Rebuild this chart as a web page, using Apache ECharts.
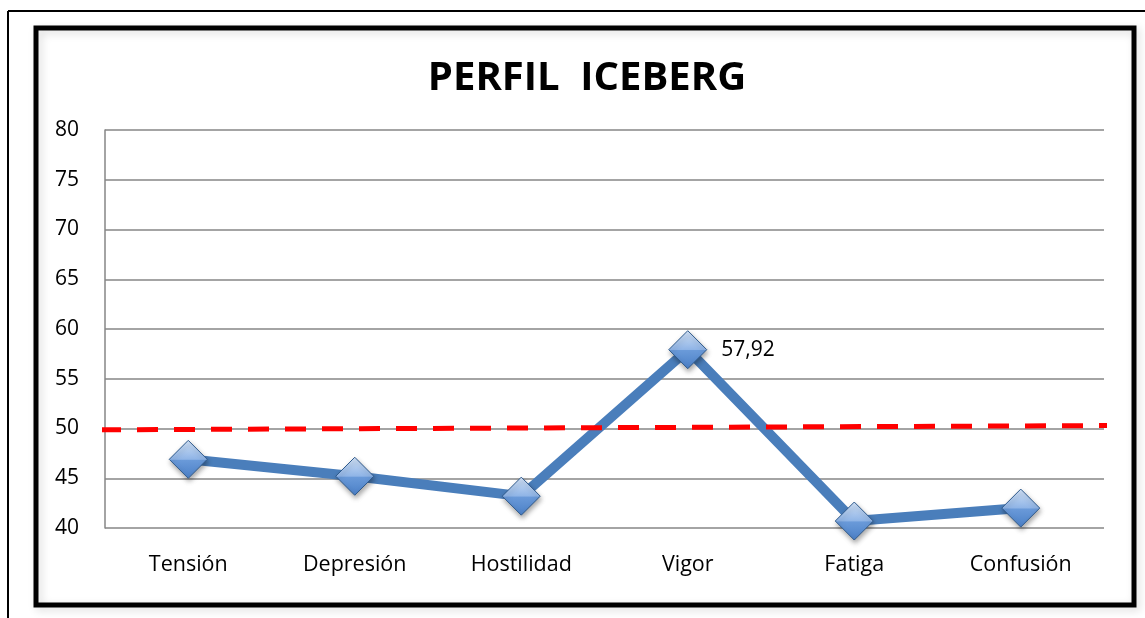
<!DOCTYPE html>
<html>
<head>
<meta charset="utf-8">
<script src="https://cdn.jsdelivr.net/npm/echarts@6/dist/echarts.min.js"></script>
<style>
html,body{margin:0;padding:0;background:#fff;}
#chart{width:1145px;height:618px;}
</style>
</head>
<body>
<div id="chart"></div>
<script>
const titleText = 'PERFIL  ICEBERG';
const categories = ['Tensión', 'Depresión', 'Hostilidad', 'Vigor', 'Fatiga', 'Confusión'];
const values = [46.9, 45.2, 43.2, 57.92, 40.7, 42.0];
const yTicks = [40, 45, 50, 55, 60, 65, 70, 75, 80];
// reference dashed line (drawn across the plot, slightly tilted)
const refLineX = [-0.005, 1.018];
const refLineY = [49.87, 50.3];
const labelledIndex = 3;

const FONT = '"Open Sans", "Noto Sans", sans-serif';
const chart = echarts.init(document.getElementById('chart'), null, {renderer: 'canvas'});

const diamondFill = new echarts.graphic.LinearGradient(0, 0, 0, 1, [
  {offset: 0, color: '#d3e3f7'},
  {offset: 0.5, color: '#8fb4e6'},
  {offset: 0.52, color: '#6a9ad9'},
  {offset: 1, color: '#4a7fc6'}
]);

chart.setOption({
  backgroundColor: '#ffffff',
  animation: false,
  title: {
    text: titleText,
    left: 582, top: 54, textAlign: 'center',
    textStyle: {fontFamily: FONT, fontWeight: 'bold', fontSize: 40, color: '#000'}
  },
  graphic: [
    {type: 'line', shape: {x1: 8, y1: 11, x2: 1145, y2: 11}, style: {stroke: '#000', lineWidth: 2}},
    {type: 'line', shape: {x1: 8, y1: 11, x2: 8, y2: 618}, style: {stroke: '#000', lineWidth: 2}},
    {type: 'rect', shape: {x: 36, y: 28, width: 1098, height: 577},
     style: {fill: null, stroke: '#000', lineWidth: 5, shadowColor: 'rgba(0,0,0,0.15)', shadowBlur: 8, shadowOffsetX: 3, shadowOffsetY: 3}}
  ],
  grid: {left: 105, right: 41, top: 130, bottom: 90},
  xAxis: [
    {
      type: 'category', data: categories, boundaryGap: true,
      axisLine: {show: false}, axisTick: {show: false},
      axisLabel: {fontFamily: FONT, fontSize: 21.5, color: '#000', margin: 26}
    },
    {type: 'value', min: 0, max: 1, show: false}
  ],
  yAxis: {
    type: 'value', min: 40, max: 80, interval: 5,
    axisLine: {show: true, lineStyle: {color: '#868686', width: 1.5}},
    axisTick: {show: false},
    axisLabel: {fontFamily: FONT, fontSize: 21, color: '#000', margin: 26,
      formatter: v => yTicks.includes(v) ? String(v) : ''},
    splitLine: {show: true, lineStyle: {color: '#868686', width: 1.5}}
  },
  series: [
    {
      type: 'line', data: values, xAxisIndex: 0, z: 2,
      lineStyle: {color: '#4a7ebb', width: 10},
      symbol: 'diamond', symbolSize: [38, 38],
      itemStyle: {color: diamondFill, borderColor: '#2f5a8c', borderWidth: 1,
        shadowColor: 'rgba(0,0,0,0.35)', shadowBlur: 5, shadowOffsetX: 1, shadowOffsetY: 3},
      label: {show: true, position: 'right', distance: 14, fontFamily: FONT, fontSize: 21, color: '#000',
        formatter: p => p.dataIndex === labelledIndex ? String(p.value).replace('.', ',') : ''},
      emphasis: {disabled: true}
    },
    {
      type: 'line', xAxisIndex: 1, z: 5, clip: false,
      data: refLineX.map((x, i) => [x, refLineY[i]]),
      symbol: 'none',
      lineStyle: {color: '#ff0000', width: 5, type: [21, 16]},
      emphasis: {disabled: true}
    }
  ]
});
</script>
</body>
</html>
